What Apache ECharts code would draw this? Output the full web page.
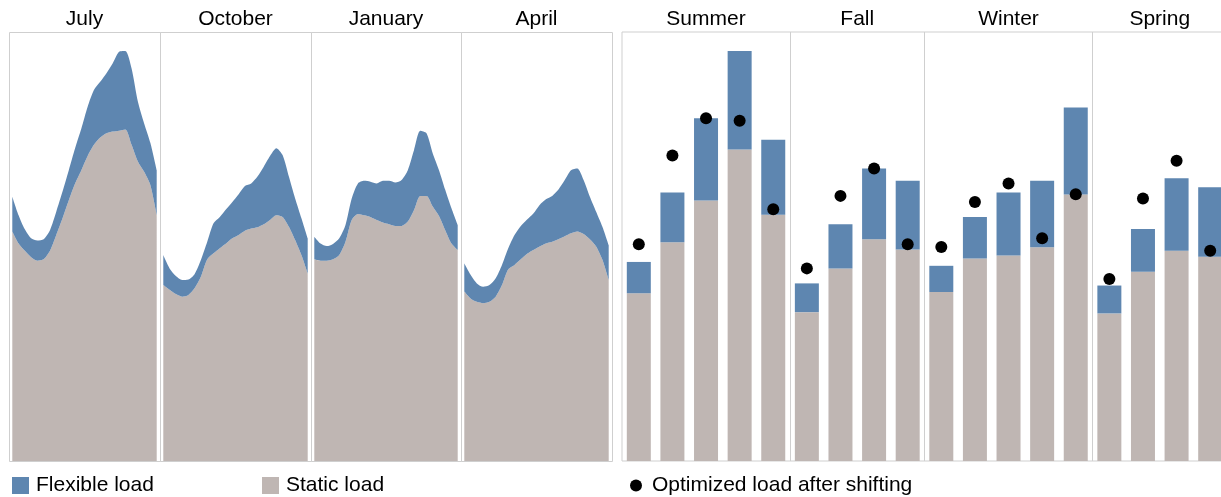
<!DOCTYPE html>
<html>
<head>
<meta charset="utf-8">
<script src="https://cdn.jsdelivr.net/npm/echarts@6/dist/echarts.min.js"></script>
<style>
    html, body { margin: 0; padding: 0; background: #fff; }
    #chart { width: 1221px; height: 497px; }
</style>
</head>
<body>
<div id="chart"></div>
<script>
// hourly load profiles (relative units, 0-100)
const hours = ["0", "1", "2", "3", "4", "5", "6", "7", "8", "9", "10", "11", "12", "13", "14", "15", "16", "17", "18", "19", "20", "21", "22", "23"];
const months = ["July", "October", "January", "April"];

const staticJuly = [53.5, 50.7, 49.0, 47.5, 46.7, 47.0, 49.0, 52.7, 56.6, 60.8, 64.7, 67.8, 71.1, 73.7, 75.4, 76.4, 76.8, 77.0, 77.3, 73.7, 69.8, 67.4, 64.3, 57.3];
const flexJuly = [8.1, 6.6, 5.0, 4.4, 4.7, 4.7, 4.8, 5.4, 6.2, 7.0, 8.2, 9.7, 11.5, 12.8, 13.0, 14.0, 15.9, 18.4, 18.3, 17.8, 14.0, 11.3, 9.8, 10.5];

const staticOctober = [41.0, 39.9, 38.9, 38.3, 38.7, 40.3, 43.0, 47.0, 48.4, 49.6, 50.7, 51.9, 52.7, 53.7, 54.2, 54.5, 55.2, 56.2, 57.3, 56.9, 54.6, 51.5, 48.0, 43.7];
const flexOctober = [7.0, 5.0, 4.2, 3.9, 3.6, 3.3, 3.9, 4.1, 7.0, 7.3, 8.0, 8.5, 9.5, 10.4, 10.5, 11.8, 13.4, 14.9, 15.6, 14.4, 11.7, 9.7, 8.6, 8.2];

const staticJanuary = [47.0, 46.7, 46.7, 47.0, 48.0, 51.1, 56.2, 57.6, 57.3, 56.9, 56.2, 55.6, 55.2, 54.8, 54.8, 55.8, 58.5, 61.8, 61.8, 59.3, 57.1, 53.8, 50.7, 49.2];
const flexJanuary = [5.3, 4.0, 3.4, 3.6, 3.9, 3.9, 5.0, 7.1, 8.0, 8.2, 8.5, 9.7, 10.1, 10.1, 10.7, 12.0, 14.0, 15.2, 14.6, 12.4, 10.7, 9.4, 8.2, 5.8];

const staticApril = [39.5, 37.9, 37.1, 36.8, 37.1, 38.3, 41.0, 44.7, 45.7, 47.0, 48.3, 49.2, 50.0, 50.7, 51.1, 51.7, 52.4, 53.1, 53.5, 52.9, 51.7, 50.0, 46.9, 42.2];
const flexApril = [6.6, 5.5, 4.3, 3.8, 3.9, 4.3, 4.7, 4.9, 7.0, 7.8, 8.0, 8.5, 9.7, 10.3, 10.7, 11.6, 13.1, 14.7, 14.7, 12.6, 9.9, 8.1, 7.7, 8.1];

// seasonal bars
const seasons = ["Summer", "Fall", "Winter", "Spring"];
const barCategories = [
    "Summer 1", "Summer 2", "Summer 3", "Summer 4", "Summer 5",
    "Fall 1", "Fall 2", "Fall 3", "Fall 4",
    "Winter 1", "Winter 2", "Winter 3", "Winter 4", "Winter 5",
    "Spring 1", "Spring 2", "Spring 3", "Spring 4"
];
const barStatic = [39.1, 51.0, 60.7, 72.6, 57.4, 34.7, 44.9, 51.7, 49.3, 39.4, 47.2, 47.9, 49.8, 62.1, 34.4, 44.1, 49.0, 47.6];
const barFlexible = [7.3, 11.6, 19.2, 23.0, 17.5, 6.7, 10.3, 16.5, 16.0, 6.1, 9.7, 14.7, 15.5, 20.3, 6.5, 10.0, 16.9, 16.2];
const optimized = [50.5, 71.2, 79.9, 79.3, 58.7, 44.9, 61.8, 68.2, 50.5, 49.9, 60.4, 64.7, 51.9, 62.2, 42.4, 61.2, 70.0, 49.0];

const BLUE = "#5e86b0";
const GRAY = "#bfb6b3";
const BORDER = "#cfcfcf";
const FONT = "Arial, 'Liberation Sans', sans-serif";

const staticSets = [staticJuly, staticOctober, staticJanuary, staticApril];
const flexSets = [flexJuly, flexOctober, flexJanuary, flexApril];
const panelLeft = [9, 160, 311, 461];
const panelWidth = [151, 151, 150, 151];

let grids = [], xAxes = [], yAxes = [], series = [], graphics = [];

months.forEach(function (m, k) {
    // data area is inset a little inside each frame
    grids.push({
        left: panelLeft[k] + 3.3, top: 32, width: panelWidth[k] - 6.6, height: 429,
        outerBoundsMode: "none"
    });
    xAxes.push({type: "category", gridIndex: k, data: hours, boundaryGap: false, show: false});
    yAxes.push({type: "value", gridIndex: k, min: 0, max: 100, show: false});
    series.push({
        name: "Static load", type: "line", xAxisIndex: k, yAxisIndex: k, stack: "m" + k,
        data: staticSets[k], smooth: 0.25, showSymbol: false, symbol: "none",
        lineStyle: {width: 0}, itemStyle: {color: GRAY}, areaStyle: {color: GRAY, opacity: 1}
    });
    series.push({
        name: "Flexible load", type: "line", xAxisIndex: k, yAxisIndex: k, stack: "m" + k,
        data: flexSets[k], smooth: 0.25, showSymbol: false, symbol: "none",
        lineStyle: {width: 0}, itemStyle: {color: BLUE}, areaStyle: {color: BLUE, opacity: 1}
    });
    graphics.push({
        type: "rect", z: 10, silent: true,
        shape: {x: panelLeft[k] + 0.5, y: 32.5, width: panelWidth[k], height: 429},
        style: {fill: "none", stroke: BORDER, lineWidth: 1}
    });
    graphics.push({
        type: "text", x: panelLeft[k] + panelWidth[k] / 2, y: 19,
        style: {text: m, font: "21px " + FONT, fill: "#000", textAlign: "center", textVerticalAlign: "middle"}
    });
});

// right panel: bars + dots (the last column runs past the edge of the picture)
const bi = months.length;
const bandW = 605 / barCategories.length;
grids.push({
    left: 622, top: 32, width: 605, height: 429, outerBoundsMode: "none",
    show: true, borderColor: BORDER, borderWidth: 1, backgroundColor: "transparent"
});
const groupStarts = [0, 5, 9, 14, 18];
xAxes.push({
    type: "category", gridIndex: bi, data: barCategories, boundaryGap: true,
    axisLine: {show: false}, axisTick: {show: false}, axisLabel: {show: false},
    splitLine: {
        show: true,
        interval: function (index) { return index === 5 || index === 9 || index === 14; },
        lineStyle: {color: BORDER, width: 1}
    }
});
yAxes.push({type: "value", gridIndex: bi, min: 0, max: 100, show: false});
series.push({
    name: "Static load", type: "bar", xAxisIndex: bi, yAxisIndex: bi, stack: "bars",
    data: barStatic, barWidth: 24, itemStyle: {color: GRAY}
});
series.push({
    name: "Flexible load", type: "bar", xAxisIndex: bi, yAxisIndex: bi, stack: "bars",
    data: barFlexible, barWidth: 24, itemStyle: {color: BLUE}
});
series.push({
    name: "Optimized load after shifting", type: "scatter", xAxisIndex: bi, yAxisIndex: bi,
    data: optimized, symbol: "circle", symbolSize: 12, itemStyle: {color: "#000", opacity: 1}, z: 5
});
seasons.forEach(function (s, k) {
    const mid = (groupStarts[k] + groupStarts[k + 1]) / 2;
    graphics.push({
        type: "text", x: 622 + mid * bandW, y: 19,
        style: {text: s, font: "21px " + FONT, fill: "#000", textAlign: "center", textVerticalAlign: "middle"}
    });
});

function legendItem(name, left, color, icon, size, gap) {
    return {
        data: [{name: name, itemStyle: {color: color, opacity: 1}}],
        left: left, top: 475, padding: 0, icon: icon, itemWidth: size, itemHeight: size,
        selectedMode: false,
        textStyle: {fontSize: 21, fontFamily: FONT, color: "#000", padding: [0, 0, 0, gap]}
    };
}

const chart = echarts.init(document.getElementById("chart"));
chart.setOption({
    animation: false,
    backgroundColor: "#fff",
    grid: grids,
    xAxis: xAxes,
    yAxis: yAxes,
    series: series,
    graphic: graphics,
    legend: [
        legendItem("Flexible load", 12, BLUE, "rect", 17, 2),
        legendItem("Static load", 262, GRAY, "rect", 17, 2),
        legendItem("Optimized load after shifting", 630, "#000", "circle", 12, 5)
    ]
});
</script>
</body>
</html>
